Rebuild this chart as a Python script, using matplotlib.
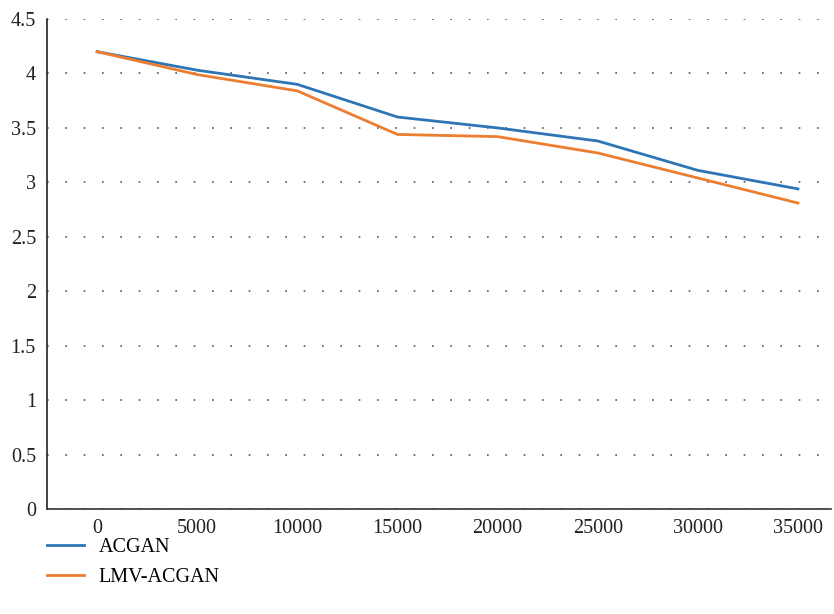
import matplotlib.pyplot as plt

steps = ['0', '5000', '10000', '15000', '20000', '25000', '30000', '35000']
acgan = [4.20, 4.03, 3.90, 3.60, 3.50, 3.38, 3.11, 2.94]
lmv_acgan = [4.20, 3.99, 3.84, 3.44, 3.42, 3.27, 3.04, 2.81]

plt.rcParams['font.family'] = ['Liberation Serif', 'DejaVu Serif']

fig = plt.figure(figsize=(8.34, 6.14), dpi=100)
ax = fig.add_axes([0.0564, 0.171, 0.94, 0.798])

x = range(len(steps))
ax.plot(x, acgan, color='#2E75B6', lw=2, label='ACGAN')
ax.plot(x, lmv_acgan, color='#ED7D31', lw=2, label='LMV-ACGAN')

ax.set_xlim(-0.5, 7.33)
ax.set_ylim(0, 4.5)
ax.set_xticks(list(x))
ax.set_xticklabels(steps)
ax.set_yticks([0, 0.5, 1, 1.5, 2, 2.5, 3, 3.5, 4, 4.5])
ax.set_yticklabels(['0', '0.5', '1', '1.5', '2', '2.5', '3', '3.5', '4', '4.5'])
ax.tick_params(length=0, labelsize=14.5, colors='#222222')
ax.tick_params(axis='x', pad=7)
ax.tick_params(axis='y', pad=8)

ax.grid(axis='y', linestyle=(0, (1, 10)), color='#555555', lw=1.2)
ax.set_axisbelow(True)
for s in ['top', 'right']:
    ax.spines[s].set_visible(False)
ax.spines['left'].set_color('#222222')
ax.spines['bottom'].set_color('#333333')
ax.spines['left'].set_linewidth(1.2)
ax.spines['bottom'].set_linewidth(1.2)

fig.legend(loc='upper left', bbox_to_anchor=(0.035, 0.153), frameon=False,
           fontsize=14.5, handlelength=1.8, labelspacing=0.55, handletextpad=0.75)

plt.savefig('out.png', dpi=100)
